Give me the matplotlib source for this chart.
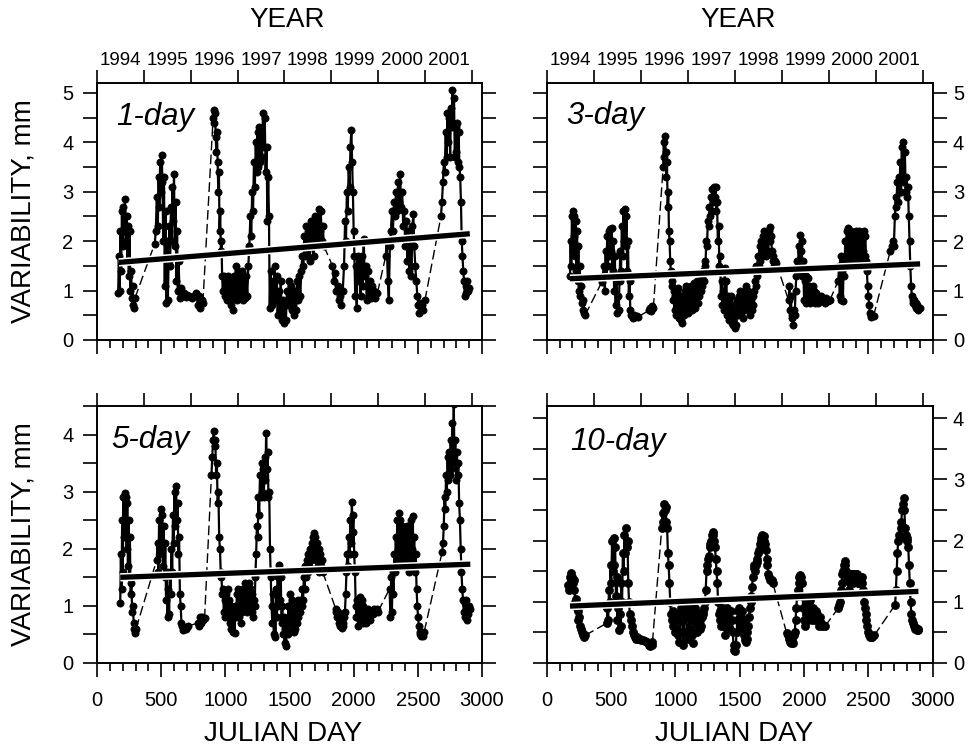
import numpy as np
import matplotlib
matplotlib.use("Agg")
import matplotlib.pyplot as plt
from matplotlib.ticker import MultipleLocator
import matplotlib.patheffects as pe

plt.rcParams['font.family'] = ['Liberation Sans', 'DejaVu Sans']

# (julian day, variability mm)
v1day = [
    (165, 0.95), (170, 1.7), (176, 1.0), (182, 2.2), (188, 1.4), (194, 2.6), (200, 1.9), (206, 2.7),
    (212, 2.2), (218, 2.85), (224, 2.0), (230, 2.5), (236, 1.6), (242, 2.3), (248, 1.3), (254, 2.2),
    (260, 1.0), (266, 1.4), (272, 0.85), (278, 1.1), (284, 0.7), (290, 0.65), (296, 0.85),
    (450, 1.95), (458, 2.2), (466, 2.9), (474, 2.3), (480, 3.3), (486, 2.7), (492, 3.6), (498, 3.0),
    (504, 3.75), (510, 3.2), (516, 2.0), (522, 3.3), (528, 1.1), (534, 2.6), (540, 0.75), (546, 2.0),
    (552, 0.8), (558, 1.6), (564, 2.3), (570, 1.5), (576, 2.7), (582, 2.0), (588, 3.1), (594, 2.4),
    (600, 3.35), (606, 1.9), (612, 2.8), (618, 1.2), (624, 2.2), (630, 1.0), (636, 1.6), (644, 0.85),
    (652, 1.05), (662, 0.9), (675, 0.95), (690, 0.88), (705, 0.92), (720, 0.9), (738, 0.85), (756, 0.9),
    (775, 0.95), (785, 0.7), (795, 0.9), (805, 0.65), (815, 0.8), (825, 0.75),
    (905, 4.5), (910, 4.65), (915, 4.4), (920, 4.6), (925, 4.1), (930, 3.8), (935, 4.2), (940, 3.6),
    (945, 3.0), (950, 3.4), (955, 2.2), (960, 2.6), (965, 1.8), (970, 2.0), (975, 1.3), (980, 1.0),
    (987, 1.3), (995, 0.9), (1003, 1.2), (1011, 0.8), (1019, 1.3), (1027, 0.9), (1035, 1.2), (1043, 0.7),
    (1051, 1.1), (1059, 0.6), (1067, 1.3), (1075, 0.9), (1083, 1.5), (1091, 0.8), (1099, 1.4), (1107, 1.0),
    (1115, 1.3), (1123, 0.9), (1131, 1.4), (1139, 0.8), (1147, 1.2), (1155, 0.85), (1163, 1.3), (1171, 0.9),
    (1179, 1.5), (1187, 1.9), (1195, 2.5), (1202, 2.1), (1209, 3.0), (1216, 2.6), (1223, 3.6), (1230, 3.1),
    (1237, 4.0), (1244, 3.4), (1251, 4.2), (1258, 3.5), (1265, 4.3), (1272, 3.6), (1279, 4.1), (1286, 3.7),
    (1293, 4.6), (1300, 3.9), (1307, 4.5), (1314, 3.4), (1321, 3.9), (1328, 2.4), (1334, 3.3), (1340, 2.5),
    (1346, 0.65), (1352, 1.4), (1360, 0.7), (1368, 1.2), (1376, 0.9), (1384, 1.5), (1392, 0.8), (1400, 1.3),
    (1408, 0.5), (1416, 1.0), (1424, 0.6), (1432, 1.2), (1440, 0.4), (1448, 0.8), (1456, 0.35), (1464, 0.7),
    (1472, 0.4), (1480, 1.0), (1488, 0.7), (1496, 1.2), (1504, 0.8), (1512, 1.1), (1520, 0.6), (1528, 0.9),
    (1536, 0.5), (1544, 1.0), (1552, 0.6), (1560, 1.2), (1568, 0.8), (1576, 1.3), (1584, 0.9), (1592, 1.4),
    (1600, 1.7), (1608, 1.5), (1616, 2.1), (1624, 1.7), (1632, 2.3), (1640, 1.8), (1648, 2.2), (1656, 1.6),
    (1664, 2.4), (1672, 1.9), (1680, 2.3), (1688, 1.7), (1696, 2.5), (1704, 2.0), (1712, 2.4), (1720, 2.1),
    (1728, 2.65), (1736, 2.2), (1744, 2.6), (1752, 2.0), (1760, 2.3), (1768, 1.9),
    (1835, 1.5), (1845, 1.2), (1855, 1.35), (1865, 1.0), (1875, 1.1), (1885, 0.8), (1895, 0.9), (1905, 0.7),
    (1915, 1.0), (1925, 1.5), (1933, 2.4), (1940, 2.0), (1947, 3.0), (1954, 2.6), (1961, 3.5), (1968, 3.1),
    (1975, 3.9), (1982, 4.25), (1988, 3.6), (1994, 3.0), (2000, 2.2), (2006, 1.7), (2012, 0.9), (2018, 1.5),
    (2024, 0.65), (2030, 1.7), (2038, 1.2), (2046, 1.6), (2054, 0.9), (2062, 1.7), (2070, 1.1), (2078, 2.05),
    (2086, 1.3), (2094, 1.5), (2102, 0.8), (2110, 1.4), (2118, 0.9), (2126, 1.2), (2134, 0.85), (2142, 1.1),
    (2150, 0.9), (2160, 1.0), (2170, 0.85), (2185, 0.95),
    (2250, 1.7), (2258, 2.0), (2266, 1.2), (2274, 0.8), (2282, 1.9), (2290, 2.2), (2298, 2.6), (2306, 2.2),
    (2314, 2.8), (2322, 2.5), (2330, 3.0), (2338, 2.6), (2346, 3.2), (2354, 2.8), (2362, 3.35), (2370, 2.7),
    (2378, 3.0), (2386, 2.3), (2394, 2.6), (2402, 1.9), (2410, 2.4), (2418, 1.6), (2426, 2.2), (2434, 1.4),
    (2442, 2.0), (2450, 1.3), (2458, 2.3), (2465, 2.55), (2472, 1.9), (2480, 1.5), (2488, 1.2), (2496, 0.9),
    (2504, 0.7), (2512, 0.55), (2520, 0.75), (2528, 0.6), (2536, 0.7), (2544, 0.6), (2555, 0.8),
    (2680, 2.5), (2688, 2.8), (2696, 3.2), (2703, 3.6), (2710, 3.4), (2717, 4.2), (2724, 3.7), (2731, 4.6),
    (2738, 4.0), (2745, 4.5), (2752, 3.7), (2758, 4.7), (2764, 4.3), (2770, 5.05), (2776, 4.4), (2782, 4.9),
    (2788, 3.7), (2794, 4.3), (2800, 3.8), (2806, 4.4), (2812, 3.6), (2818, 4.2), (2824, 3.5), (2830, 3.3),
    (2836, 2.8), (2842, 2.0), (2848, 1.7), (2854, 1.4), (2860, 1.2), (2866, 0.9), (2872, 1.1), (2878, 0.95),
    (2884, 1.2), (2892, 1.0), (2900, 1.05),
]

v3day = [
    (181, 1.3), (186, 2.0), (191, 1.5), (196, 2.5), (201, 1.8), (206, 2.6), (211, 2.1), (216, 2.5),
    (221, 1.7), (226, 2.4), (231, 1.4), (236, 2.2), (241, 1.2), (246, 1.9), (251, 1.0), (256, 1.5),
    (262, 0.9), (268, 1.1), (274, 0.75), (280, 0.8), (286, 0.6), (292, 0.55), (298, 0.5),
    (428, 1.17), (436, 1.3), (444, 1.5), (452, 1.0), (458, 1.8), (464, 1.3), (470, 2.1), (476, 1.5),
    (482, 2.2), (488, 1.7), (494, 2.25), (500, 1.8), (506, 2.27), (512, 1.4), (518, 2.0), (524, 1.0),
    (530, 1.7), (536, 0.7), (542, 1.3), (548, 0.55), (554, 0.9), (560, 0.6), (566, 1.2), (572, 1.8),
    (578, 1.4), (584, 2.3), (590, 1.7), (596, 2.6), (602, 2.0), (608, 2.65), (614, 1.9), (620, 2.5),
    (626, 1.4), (632, 2.0), (638, 0.9), (644, 1.2), (650, 0.6), (656, 0.5), (664, 0.48), (672, 0.45),
    (680, 0.5), (690, 0.47), (700, 0.48), (712, 0.47),
    (795, 0.6), (803, 0.65), (811, 0.58), (819, 0.68), (829, 0.65),
    (905, 3.5), (910, 4.0), (915, 3.7), (920, 4.12), (925, 3.8), (930, 3.3), (935, 3.6), (940, 2.7),
    (945, 3.0), (950, 2.2), (955, 2.0), (960, 1.6), (965, 1.4), (970, 1.1), (976, 1.2), (982, 0.8),
    (988, 1.0), (994, 0.6), (1000, 0.9), (1006, 0.5), (1012, 1.0), (1018, 0.7), (1024, 1.05), (1030, 0.45),
    (1036, 0.9), (1042, 0.4), (1048, 0.8), (1054, 0.35), (1060, 0.9), (1066, 0.5), (1072, 1.0), (1078, 0.6),
    (1084, 1.1), (1090, 0.7), (1096, 1.0), (1102, 0.55), (1108, 1.05), (1114, 0.7), (1120, 1.1), (1126, 0.6),
    (1132, 1.0), (1138, 0.8), (1144, 1.15), (1150, 0.65), (1156, 1.1), (1162, 0.9), (1168, 1.2), (1174, 0.75),
    (1180, 1.1), (1186, 0.9), (1192, 1.2), (1198, 1.0), (1204, 1.3), (1210, 1.1), (1216, 1.4), (1222, 1.2),
    (1228, 1.6), (1234, 1.5), (1240, 2.0), (1246, 1.9), (1252, 2.4), (1258, 2.3), (1264, 2.7), (1270, 2.5),
    (1276, 2.9), (1282, 2.6), (1288, 3.05), (1294, 2.8), (1300, 3.1), (1306, 2.9), (1312, 3.1), (1318, 2.6),
    (1324, 2.8), (1330, 2.0), (1336, 2.3), (1342, 1.5), (1348, 1.7), (1354, 0.9), (1360, 1.2), (1366, 0.7),
    (1372, 1.0), (1378, 0.6), (1384, 1.45), (1390, 0.8), (1396, 1.2), (1402, 0.5), (1408, 0.9), (1414, 0.4),
    (1420, 0.8), (1426, 0.55), (1432, 0.9), (1438, 0.35), (1444, 0.7), (1450, 0.3), (1456, 0.5), (1462, 0.25),
    (1468, 0.6), (1474, 0.3), (1480, 0.8), (1486, 0.5), (1492, 0.9), (1498, 0.6), (1504, 1.0), (1510, 0.55),
    (1516, 0.8), (1522, 0.45), (1528, 0.9), (1534, 0.6), (1540, 1.0), (1546, 0.7), (1552, 1.1), (1558, 0.8),
    (1564, 1.0), (1570, 0.6), (1576, 0.9), (1582, 0.5), (1588, 0.8), (1594, 0.6), (1600, 0.9), (1606, 0.7),
    (1612, 1.0), (1618, 1.2), (1624, 1.1), (1630, 1.5), (1636, 1.3), (1642, 1.7), (1648, 1.5), (1654, 1.9),
    (1660, 1.6), (1666, 2.0), (1672, 1.7), (1678, 2.1), (1684, 1.8), (1690, 2.2), (1696, 1.9), (1702, 2.1),
    (1708, 1.7), (1714, 2.0), (1720, 1.8), (1726, 2.2), (1732, 2.29), (1738, 2.0), (1744, 2.1), (1750, 1.8),
    (1756, 1.6), (1762, 1.7), (1768, 1.5), (1776, 1.6), (1785, 1.55),
    (1880, 0.8), (1886, 1.1), (1892, 0.6), (1898, 0.9), (1904, 0.45), (1910, 0.5), (1916, 0.3), (1922, 0.6),
    (1928, 0.5), (1934, 1.0), (1940, 1.3), (1946, 1.6), (1952, 1.4), (1958, 1.9), (1964, 1.6), (1970, 2.12),
    (1976, 1.8), (1982, 2.0), (1988, 1.3), (1994, 1.6), (2000, 0.8), (2006, 1.2), (2012, 0.75), (2018, 1.3),
    (2024, 0.9), (2030, 1.25), (2036, 0.8), (2042, 1.1), (2048, 0.75), (2054, 1.0), (2060, 0.8), (2066, 1.1),
    (2072, 0.85), (2078, 1.0), (2084, 0.75), (2090, 0.95), (2096, 0.8), (2102, 0.9), (2108, 0.75), (2114, 0.85),
    (2120, 0.8), (2130, 0.9), (2140, 0.8), (2150, 0.85), (2160, 0.75), (2170, 0.85), (2180, 0.8), (2190, 0.78),
    (2200, 0.8),
    (2266, 1.2), (2272, 1.5), (2278, 0.9), (2284, 1.7), (2290, 0.8), (2296, 1.4), (2302, 0.78), (2308, 1.6),
    (2314, 1.3), (2320, 2.0), (2326, 1.7), (2332, 2.2), (2338, 1.8), (2344, 2.27), (2350, 1.7), (2356, 2.1),
    (2362, 1.6), (2368, 2.2), (2374, 1.7), (2380, 2.1), (2386, 1.6), (2392, 2.0), (2398, 1.7), (2404, 2.2),
    (2410, 1.8), (2416, 2.1), (2422, 1.6), (2428, 2.2), (2434, 1.7), (2440, 2.0), (2446, 1.6), (2452, 1.9),
    (2458, 1.8), (2464, 2.2), (2470, 1.7), (2476, 2.1), (2482, 1.6), (2488, 1.4), (2494, 1.1), (2500, 0.9),
    (2506, 0.7), (2512, 0.55), (2518, 0.5), (2524, 0.47), (2532, 0.5), (2540, 0.48),
    (2670, 1.8), (2680, 1.9), (2690, 2.0), (2698, 1.9), (2706, 2.5), (2712, 2.9), (2718, 2.7), (2724, 3.2),
    (2730, 2.8), (2736, 3.3), (2742, 3.0), (2748, 3.6), (2754, 3.0), (2760, 3.9), (2766, 3.2), (2772, 4.0),
    (2778, 3.3), (2784, 3.8), (2790, 3.0), (2796, 3.3), (2802, 2.9), (2808, 3.1), (2814, 2.5), (2820, 2.0),
    (2826, 1.5), (2832, 1.1), (2838, 0.9), (2844, 0.8), (2850, 0.75), (2856, 0.8), (2862, 0.7), (2868, 0.75),
    (2874, 0.65), (2880, 0.7), (2886, 0.6), (2892, 0.65), (2900, 0.65),
]

v5day = [
    (181, 1.05), (186, 1.9), (191, 1.3), (196, 2.5), (201, 1.6), (206, 2.9), (211, 2.2), (216, 2.97),
    (221, 2.4), (226, 2.9), (231, 2.0), (236, 2.8), (241, 1.7), (246, 2.5), (251, 1.5), (256, 2.2),
    (262, 1.2), (268, 1.4), (274, 0.9), (280, 1.0), (286, 0.7), (292, 0.6), (298, 0.52), (304, 0.6),
    (465, 1.8), (472, 2.1), (478, 1.6), (484, 2.5), (490, 1.9), (496, 2.7), (502, 2.0), (508, 2.6),
    (514, 1.7), (520, 2.4), (526, 1.5), (532, 2.1), (538, 1.1), (544, 1.6), (550, 0.81), (556, 1.3),
    (562, 0.85), (568, 1.6), (574, 1.2), (580, 2.0), (586, 1.6), (592, 2.6), (598, 2.1), (604, 3.0),
    (610, 2.4), (616, 3.1), (622, 2.5), (628, 2.8), (634, 1.9), (640, 2.2), (646, 1.2), (652, 1.0),
    (658, 0.7), (664, 0.65), (670, 0.58), (680, 0.62), (690, 0.6), (700, 0.63), (711, 0.65),
    (789, 0.7), (797, 0.65), (805, 0.8), (813, 0.7), (821, 0.8), (829, 0.75), (838, 0.78),
    (892, 3.3), (898, 3.6), (904, 3.9), (910, 4.07), (916, 3.8), (922, 3.9), (928, 3.3), (934, 3.5),
    (940, 2.8), (946, 3.0), (952, 2.2), (958, 2.0), (964, 1.6), (970, 1.5), (976, 1.2), (982, 1.3),
    (988, 0.9), (994, 1.1), (1000, 0.8), (1006, 1.2), (1012, 0.9), (1018, 1.3), (1024, 0.8), (1030, 1.1),
    (1036, 0.7), (1042, 1.0), (1048, 0.6), (1054, 0.9), (1060, 0.55), (1066, 0.8), (1072, 0.52), (1078, 1.0),
    (1084, 0.8), (1090, 1.2), (1096, 0.9), (1102, 1.3), (1108, 0.8), (1114, 1.1), (1120, 0.7), (1126, 1.2),
    (1132, 0.9), (1138, 1.3), (1144, 1.0), (1150, 1.4), (1156, 1.1), (1162, 1.3), (1168, 0.9), (1174, 1.2),
    (1180, 1.0), (1186, 1.4), (1192, 1.1), (1198, 1.3), (1204, 0.9), (1210, 1.2), (1216, 0.8), (1222, 1.1),
    (1228, 1.0), (1234, 1.5), (1240, 1.9), (1246, 2.4), (1252, 2.2), (1258, 2.9), (1264, 2.6), (1270, 3.3),
    (1276, 2.9), (1282, 3.5), (1288, 3.0), (1294, 3.4), (1300, 2.9), (1306, 3.6), (1312, 3.2), (1318, 4.02),
    (1324, 3.4), (1330, 3.7), (1336, 2.9), (1342, 3.0), (1348, 2.0), (1354, 1.5), (1360, 1.0), (1366, 0.7),
    (1372, 1.2), (1378, 0.5), (1384, 1.0), (1390, 0.45), (1396, 1.3), (1402, 0.8), (1408, 1.5), (1414, 1.0),
    (1420, 1.72), (1426, 1.1), (1432, 1.5), (1438, 0.7), (1444, 1.0), (1450, 0.5), (1456, 0.8), (1462, 0.35),
    (1468, 0.6), (1474, 0.29), (1480, 0.7), (1486, 0.5), (1492, 1.0), (1498, 0.7), (1504, 1.2), (1510, 0.8),
    (1516, 1.1), (1522, 0.6), (1528, 0.9), (1534, 0.55), (1540, 0.8), (1546, 0.6), (1552, 1.0), (1558, 0.7),
    (1564, 1.1), (1570, 0.8), (1576, 1.0), (1582, 0.9), (1588, 1.1), (1594, 1.0), (1600, 1.3), (1606, 1.1),
    (1612, 1.5), (1618, 1.3), (1624, 1.7), (1630, 1.5), (1636, 1.8), (1642, 1.6), (1648, 1.9), (1654, 1.7),
    (1660, 2.0), (1666, 1.8), (1672, 2.1), (1678, 1.9), (1684, 2.2), (1690, 2.27), (1696, 2.0), (1702, 2.2),
    (1708, 1.8), (1714, 2.1), (1720, 1.7), (1726, 2.0), (1732, 1.6), (1738, 1.9), (1744, 1.7), (1750, 1.8),
    (1758, 1.6),
    (1860, 0.95), (1866, 0.9), (1872, 0.8), (1878, 0.9), (1884, 0.7), (1890, 0.8), (1896, 0.65), (1902, 0.75),
    (1908, 0.61), (1914, 0.7), (1920, 0.65), (1926, 0.8), (1932, 0.9), (1938, 1.2), (1944, 1.6), (1950, 1.9),
    (1956, 1.7), (1962, 2.2), (1968, 1.9), (1974, 2.5), (1980, 2.1), (1986, 2.82), (1992, 2.3), (1998, 2.6),
    (2004, 1.9), (2010, 1.6), (2016, 1.0), (2022, 0.8), (2028, 1.1), (2034, 0.65), (2040, 1.0), (2046, 0.75),
    (2052, 1.16), (2058, 0.8), (2064, 1.1), (2070, 0.7), (2076, 1.0), (2082, 0.75), (2088, 0.95), (2094, 0.7),
    (2100, 0.9), (2106, 0.75), (2112, 0.95), (2118, 0.8), (2124, 0.9), (2130, 0.75), (2140, 0.9), (2150, 0.85),
    (2160, 0.95), (2170, 0.9), (2180, 0.95), (2190, 0.9),
    (2280, 1.3), (2286, 0.8), (2292, 1.5), (2298, 0.9), (2304, 1.6), (2310, 1.2), (2316, 1.9), (2322, 1.6),
    (2328, 2.2), (2334, 1.8), (2340, 2.5), (2346, 2.0), (2352, 2.62), (2358, 2.1), (2364, 2.5), (2370, 1.9),
    (2376, 2.4), (2382, 1.8), (2388, 2.3), (2394, 1.7), (2400, 2.2), (2406, 1.8), (2412, 2.4), (2418, 1.9),
    (2424, 2.3), (2430, 1.6), (2436, 2.2), (2442, 1.8), (2448, 2.5), (2454, 2.0), (2460, 2.58), (2466, 1.9),
    (2472, 2.2), (2478, 1.6), (2484, 1.9), (2490, 1.3), (2496, 1.0), (2502, 0.8), (2508, 0.65), (2514, 0.55),
    (2520, 0.5), (2526, 0.47), (2534, 0.5), (2542, 0.48), (2550, 0.55),
    (2690, 1.95), (2696, 2.1), (2702, 2.4), (2708, 2.9), (2714, 2.7), (2720, 3.3), (2726, 3.0), (2732, 3.6),
    (2738, 3.2), (2744, 3.7), (2750, 3.3), (2756, 3.9), (2762, 3.4), (2768, 4.2), (2774, 3.6), (2780, 4.53),
    (2786, 3.5), (2792, 3.9), (2798, 3.2), (2804, 3.7), (2810, 3.3), (2816, 3.5), (2822, 2.8), (2828, 2.5),
    (2834, 2.0), (2840, 1.6), (2846, 1.3), (2852, 1.1), (2858, 0.9), (2864, 1.05), (2870, 0.8), (2876, 1.1),
    (2882, 0.75), (2888, 1.0), (2894, 0.85), (2902, 1.0), (2909, 0.95),
]

v10day = [
    (168, 1.28), (174, 1.2), (180, 1.4), (186, 1.35), (192, 1.47), (198, 1.4), (204, 1.3), (210, 1.35),
    (216, 1.2), (222, 1.0), (228, 1.05), (234, 0.9), (240, 0.85), (246, 0.7), (252, 0.75), (258, 0.6),
    (264, 0.55), (272, 0.5), (280, 0.45), (288, 0.43), (298, 0.45),
    (466, 0.65), (472, 0.9), (478, 0.7), (484, 1.2), (490, 1.0), (496, 1.6), (502, 1.3), (508, 2.0),
    (514, 1.5), (520, 2.05), (526, 1.6), (532, 1.9), (538, 1.1), (544, 1.4), (550, 0.7), (556, 0.9),
    (562, 0.54), (568, 0.8), (574, 0.6), (580, 1.3), (586, 1.0), (592, 1.8), (598, 1.5), (604, 2.1),
    (610, 1.8), (616, 2.2), (622, 1.9), (628, 2.0), (634, 1.3), (640, 1.0), (646, 0.8), (652, 0.7),
    (660, 0.6), (668, 0.5), (676, 0.45), (684, 0.42), (692, 0.4), (702, 0.42), (712, 0.4), (724, 0.4),
    (736, 0.38), (751, 0.38), (766, 0.36), (781, 0.34), (796, 0.3), (806, 0.28), (816, 0.3), (822, 0.34),
    (894, 2.2), (900, 2.45), (906, 2.3), (912, 2.6), (918, 2.5), (924, 2.55), (930, 2.3), (936, 2.2),
    (942, 1.8), (948, 1.6), (954, 1.3), (960, 1.0), (966, 0.8), (972, 0.7), (978, 0.85), (984, 0.6),
    (990, 0.75), (996, 0.5), (1002, 0.7), (1008, 0.55), (1014, 0.8), (1020, 0.45), (1026, 0.35), (1032, 0.5),
    (1038, 0.7), (1044, 0.9), (1050, 0.8), (1056, 0.5), (1062, 0.3), (1068, 0.5), (1074, 0.8), (1080, 0.9),
    (1086, 0.75), (1092, 0.5), (1098, 0.4), (1104, 0.55), (1110, 0.8), (1116, 0.9), (1122, 0.7), (1128, 0.45),
    (1134, 0.32), (1140, 0.5), (1146, 0.75), (1152, 0.9), (1158, 0.8), (1164, 0.65), (1170, 0.5), (1176, 0.6),
    (1182, 0.8), (1188, 0.7), (1194, 0.55), (1200, 0.6), (1206, 0.75), (1212, 0.85), (1218, 0.8), (1224, 0.9),
    (1230, 1.0), (1236, 1.2), (1242, 1.5), (1248, 1.6), (1254, 1.7), (1260, 1.75), (1266, 1.9), (1272, 1.95),
    (1278, 2.0), (1284, 2.1), (1290, 2.14), (1296, 2.1), (1302, 2.0), (1308, 1.9), (1314, 1.7), (1320, 1.5),
    (1326, 1.3), (1332, 1.0), (1338, 0.8), (1344, 0.7), (1350, 0.85), (1356, 0.6), (1362, 0.75), (1368, 0.9),
    (1374, 0.8), (1380, 0.6), (1386, 0.45), (1392, 0.6), (1398, 0.8), (1404, 0.9), (1410, 0.85), (1416, 0.7),
    (1422, 0.55), (1428, 0.7), (1434, 0.85), (1440, 0.7), (1446, 0.5), (1452, 0.3), (1458, 0.22), (1464, 0.19),
    (1470, 0.3), (1476, 0.5), (1482, 0.7), (1488, 0.85), (1494, 0.9), (1500, 0.75), (1506, 0.6), (1512, 0.75),
    (1518, 0.85), (1524, 0.7), (1530, 0.55), (1536, 0.45), (1542, 0.38), (1548, 0.35), (1554, 0.4), (1560, 0.5),
    (1566, 0.6), (1572, 0.75), (1578, 0.9), (1584, 1.0), (1590, 1.1), (1596, 1.25), (1602, 1.4), (1608, 1.55),
    (1614, 1.6), (1620, 1.5), (1626, 1.6), (1632, 1.7), (1638, 1.65), (1644, 1.8), (1650, 1.85), (1656, 1.95),
    (1662, 2.0), (1668, 2.05), (1674, 2.09), (1680, 2.05), (1686, 2.08), (1692, 2.0), (1698, 1.95), (1704, 1.85),
    (1710, 1.7), (1716, 1.6), (1722, 1.45), (1728, 1.4), (1736, 1.35), (1748, 1.35), (1758, 1.3),
    (1865, 0.49), (1872, 0.45), (1880, 0.4), (1888, 0.35), (1896, 0.33), (1904, 0.4), (1912, 0.33), (1920, 0.45),
    (1928, 0.5), (1934, 0.7), (1940, 0.9), (1946, 1.1), (1952, 1.2), (1958, 1.3), (1964, 1.4), (1970, 1.44),
    (1976, 1.4), (1982, 1.3), (1988, 1.1), (1994, 0.9), (2000, 0.7), (2006, 0.6), (2012, 0.8), (2018, 1.0),
    (2024, 0.9), (2030, 0.7), (2036, 0.8), (2042, 1.0), (2048, 1.03), (2054, 0.85), (2060, 0.7), (2066, 0.8),
    (2072, 0.9), (2078, 0.8), (2084, 0.7), (2090, 0.75), (2096, 0.85), (2102, 0.8), (2108, 0.7), (2114, 0.6),
    (2120, 0.7), (2126, 0.75), (2132, 0.65), (2140, 0.6), (2150, 0.62), (2163, 0.6),
    (2267, 0.9), (2274, 0.95), (2280, 1.0), (2286, 1.2), (2292, 1.3), (2298, 1.45), (2304, 1.5), (2310, 1.6),
    (2316, 1.66), (2322, 1.6), (2328, 1.5), (2334, 1.35), (2340, 1.4), (2346, 1.2), (2352, 1.4), (2358, 1.3),
    (2364, 1.45), (2370, 1.35), (2376, 1.45), (2382, 1.3), (2388, 1.45), (2394, 1.4), (2400, 1.45), (2406, 1.35),
    (2412, 1.45), (2418, 1.3), (2424, 1.4), (2430, 1.3), (2436, 1.4), (2442, 1.35), (2448, 1.4), (2454, 1.3),
    (2460, 1.2), (2466, 1.0), (2472, 0.9), (2478, 0.8), (2484, 0.7), (2490, 0.6), (2496, 0.5), (2504, 0.45),
    (2512, 0.43), (2522, 0.42), (2532, 0.43), (2545, 0.45),
    (2708, 0.95), (2714, 1.2), (2720, 1.5), (2726, 1.8), (2732, 2.0), (2738, 2.1), (2744, 2.05), (2750, 2.2),
    (2756, 2.3), (2762, 2.5), (2768, 2.6), (2774, 2.69), (2780, 2.5), (2786, 2.2), (2792, 2.1), (2798, 2.0),
    (2804, 2.05), (2810, 1.9), (2816, 1.6), (2822, 1.3), (2828, 1.0), (2834, 0.8), (2840, 0.7), (2846, 0.65),
    (2852, 0.6), (2860, 0.55), (2868, 0.58), (2876, 0.54), (2884, 0.55), (2889, 0.54),
]

# linear trend: (start day, end day), (start value, end value)
trend_days = [(170, 2905), (181, 2902), (181, 2909), (181, 2889)]
trend_vals = [(1.57, 2.15), (1.24, 1.54), (1.50, 1.73), (0.93, 1.17)]

panel_names = ['1-day', '3-day', '5-day', '10-day']
panel_ymax = [5.2, 5.2, 4.5, 4.2]
years = ['1994', '1995', '1996', '1997', '1998', '1999', '2000', '2001']
year_len = 365.25

fig = plt.figure(figsize=(9.72, 7.54), dpi=100)
W, H = 972.0, 754.0
boxes = [
    [97 / W, 1 - 340 / H, 385 / W, 257 / H],
    [546.7 / W, 1 - 340 / H, 386 / W, 257 / H],
    [97 / W, 1 - 663 / H, 385 / W, 257 / H],
    [546.7 / W, 1 - 663 / H, 386 / W, 257 / H],
]
label_pos = [(0.050, 0.837), (0.050, 0.842), (0.038, 0.835), (0.060, 0.829)]
series = [v1day, v3day, v5day, v10day]


def draw_series(ax, pts, size):
    d = np.array([p[0] for p in pts], dtype=float)
    v = np.array([p[1] for p in pts], dtype=float)
    brk = np.where(np.diff(d) > 40)[0]
    starts = np.concatenate([[0], brk + 1])
    ends = np.concatenate([brk + 1, [len(d)]])
    for s, e in zip(starts, ends):
        ax.plot(d[s:e], v[s:e], color='black', lw=1.6, marker='o', ms=size,
                mfc='black', mec='black', mew=0.5, zorder=3)
    for i in brk:
        ax.plot(d[i:i + 2], v[i:i + 2], color='black', lw=1.0,
                ls=(0, (7, 3)), zorder=2)


for k in range(4):
    ax = fig.add_axes(boxes[k])
    is_left = k in (0, 2)
    is_top = k in (0, 1)
    draw_series(ax, series[k], 5.2 if k < 3 else 5.8)
    ax.plot(trend_days[k], trend_vals[k], color='black', lw=3.8, solid_capstyle='butt', zorder=5,
            path_effects=[pe.Stroke(linewidth=6.0, foreground='white'), pe.Normal()])

    ax.set_xlim(0, 3000)
    ax.set_ylim(0, panel_ymax[k])
    ax.xaxis.set_major_locator(MultipleLocator(500))
    ax.xaxis.set_minor_locator(MultipleLocator(100))
    ax.yaxis.set_major_locator(MultipleLocator(1))
    ax.yaxis.set_minor_locator(MultipleLocator(0.5))
    for sp in ax.spines.values():
        sp.set_linewidth(1.2)
    ax.tick_params(axis='y', which='both', direction='out', length=10, width=1.2,
                   left=True, right=True, labelleft=is_left, labelright=not is_left,
                   labelsize=14.5, pad=7 if is_left else 4.5)
    ax.tick_params(axis='x', which='major', direction='out', length=10, width=1.2,
                   bottom=True, top=False, labelbottom=not is_top, labelsize=14.5, pad=10)
    ax.tick_params(axis='x', which='minor', direction='out', length=5.5, width=1.2,
                   bottom=True, top=False)

    top = ax.twiny()
    top.set_xlim(0, 3000)
    top.set_xticks([year_len * i for i in range(9)])
    top.set_xticklabels([])
    top.set_xticks([year_len * (i + 0.5) for i in range(8)], minor=True)
    top.set_xticklabels(years if is_top else [''] * 8, minor=True)
    top.tick_params(axis='x', which='major', direction='out', length=9.5, width=1.2)
    top.tick_params(axis='x', which='minor', length=0, pad=10, labelsize=13.5)
    for sp in top.spines.values():
        sp.set_linewidth(1.2)

    ax.text(label_pos[k][0], label_pos[k][1], panel_names[k], transform=ax.transAxes,
            fontsize=22.5, fontstyle='italic', ha='left', va='baseline', zorder=6)

    cx = boxes[k][0] + boxes[k][2] / 2
    cy = boxes[k][1] + boxes[k][3] / 2
    if is_top:
        fig.text(cx - 2 / W, 1 - 20 / H, 'YEAR', fontsize=20, ha='center', va='center')
    else:
        fig.text(cx - 6 / W, 1 - 734 / H, 'JULIAN DAY', fontsize=20, ha='center', va='center')
    if is_left:
        fig.text(24 / W, cy, 'VARIABILITY, mm', fontsize=20, rotation=90, ha='center', va='center')

fig.savefig('out.png', dpi=100)
